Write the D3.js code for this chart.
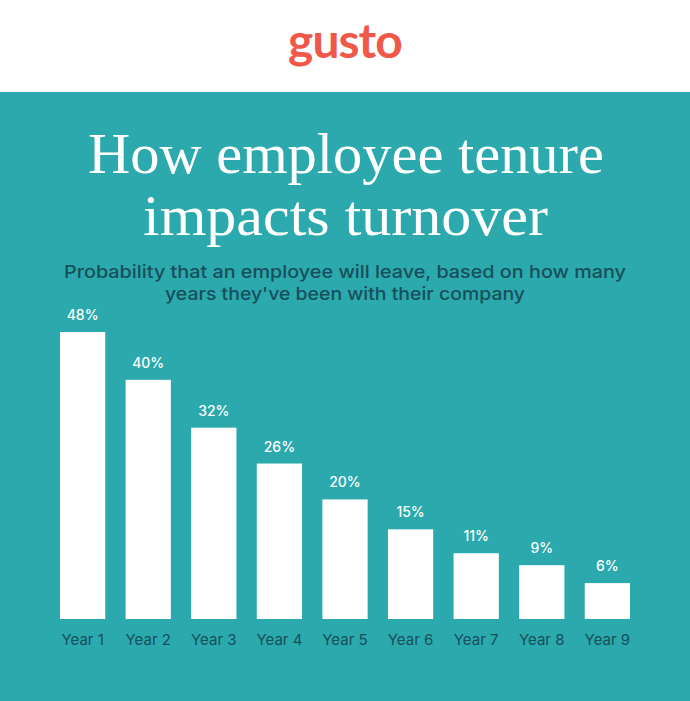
<!DOCTYPE html>
<html><head><meta charset="utf-8">
<script src="https://cdn.jsdelivr.net/npm/d3@7"></script>
<style>body{margin:0;background:#fff}svg{display:block}</style>
</head><body>
<script>
const categories=["Year 1","Year 2","Year 3","Year 4","Year 5","Year 6","Year 7","Year 8","Year 9"];
const values=[48,40,32,26,20,15,11,9,6];
const valueLabels=["48%","40%","32%","26%","20%","15%","11%","9%","6%"];
const W=690,H=701;
const svg=d3.select("body").append("svg").attr("width",W).attr("height",H);
svg.append("rect").attr("y",92).attr("width",W).attr("height",H-92).attr("fill","#2ba9ac");
svg.append("text").attr("x",345).attr("y",58).attr("text-anchor","middle").attr("fill","#f0594a")
 .attr("font-family","Lato").attr("font-weight",700).attr("font-size",48).attr("letter-spacing",-1).text("gusto");
const tf="Liberation Serif";
svg.append("text").attr("x",88).attr("y",173).attr("fill","#fff").attr("font-family",tf).attr("font-size",58)
 .attr("textLength",516).attr("lengthAdjust","spacingAndGlyphs").text("How employee tenure");
svg.append("text").attr("x",143).attr("y",235).attr("fill","#fff").attr("font-family",tf).attr("font-size",58)
 .attr("textLength",405).attr("lengthAdjust","spacingAndGlyphs").text("impacts turnover");
const sub=svg.append("g").attr("fill","#174f5c").attr("font-family","Inter").attr("font-weight",500).attr("font-size",17.5).attr("text-anchor","middle");
sub.append("text").attr("x",345).attr("y",278).attr("textLength",562).attr("lengthAdjust","spacingAndGlyphs").text("Probability that an employee will leave, based on how many");
sub.append("text").attr("x",345).attr("y",300).attr("textLength",360).attr("lengthAdjust","spacingAndGlyphs").text("years they've been with their company");
const x=d3.scaleBand().domain(categories).range([60,630]).paddingInner(0.31).paddingOuter(0);
const y=d3.scaleLinear().domain([0,48]).range([619,332]);
svg.selectAll(".bar").data(values).join("rect").attr("x",(d,i)=>x(categories[i])).attr("width",x.bandwidth())
 .attr("y",d=>y(d)).attr("height",d=>619-y(d)).attr("fill","#fff");
svg.selectAll(".vl").data(values).join("text").attr("x",(d,i)=>x(categories[i])+x.bandwidth()/2).attr("y",d=>y(d)-12)
 .attr("text-anchor","middle").attr("fill","#fff").attr("font-family","Inter").attr("font-weight",500).attr("font-size",14)
 .text((d,i)=>valueLabels[i]);
const ax=svg.append("g").attr("transform","translate(0,619)").call(d3.axisBottom(x).tickSize(0).tickPadding(15));
ax.select(".domain").remove();
ax.selectAll("text").attr("fill","#174f5c").attr("font-family","Inter").attr("font-size",15);
</script>
</body></html>
